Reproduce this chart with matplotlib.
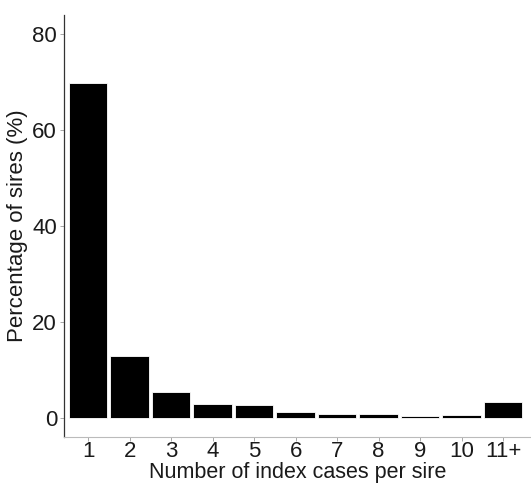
import matplotlib.pyplot as plt
import numpy as np

plt.rcParams['font.family'] = ['Liberation Sans', 'DejaVu Sans']

categories = ["1", "2", "3", "4", "5", "6", "7", "8", "9", "10", "11+"]
percent_sires = [69.8, 12.9, 5.5, 2.9, 2.6, 1.3, 0.8, 0.8, 0.4, 0.6, 3.4]

fig = plt.figure(figsize=(5.31, 4.83), dpi=100)
ax = fig.add_axes([0.1205, 0.096, 0.8795, 0.873])

x = np.arange(len(categories))
ax.bar(x, percent_sires, width=0.93, color='black', edgecolor='white', linewidth=0.6)

ax.set_xlim(-0.58, 10.67)
ax.set_ylim(-3.9, 84)
ax.set_xticks(x)
ax.set_xticklabels(categories)
ax.set_yticks([0, 20, 40, 60, 80])

ax.spines['top'].set_visible(False)
ax.spines['right'].set_visible(False)
ax.spines['left'].set_color('#333333')
ax.spines['left'].set_linewidth(0.9)
ax.spines['bottom'].set_color('#bbbbbb')
ax.spines['bottom'].set_linewidth(0.8)

ax.tick_params(axis='both', labelsize=16, length=3, width=0.6, color='#999999',
               labelcolor='#1a1a1a')
ax.tick_params(axis='x', pad=0.5)
ax.tick_params(axis='y', pad=2)
ax.set_xlabel('Number of index cases per sire', fontsize=15.5, color='#1a1a1a', labelpad=0)
ax.set_ylabel('Percentage of sires (%)', fontsize=16, color='#1a1a1a', labelpad=3)

fig.savefig('out.png', dpi=100)
